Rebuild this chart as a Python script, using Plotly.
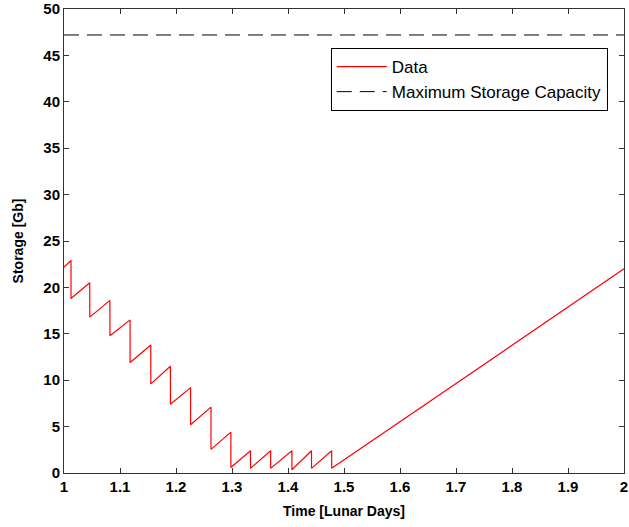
import plotly.graph_objects as go

# Data
time = [1.0, 1.0125, 1.0125, 1.046, 1.046, 1.082, 1.082, 1.118, 1.118, 1.155, 1.155,
        1.19, 1.19, 1.226, 1.226, 1.2625, 1.2625, 1.298, 1.298, 1.333, 1.333,
        1.369, 1.369, 1.407, 1.407, 1.442, 1.442, 1.478, 1.478, 2.0]
storage = [22.2, 22.9, 18.8, 20.5, 16.8, 18.6, 14.8, 16.5, 11.9, 13.8, 9.6,
           11.5, 7.4, 9.2, 5.2, 7.1, 2.55, 4.4, 0.6, 2.4, 0.5,
           2.4, 0.5, 2.4, 0.35, 2.4, 0.5, 2.4, 0.5, 22.0]
max_capacity = 47.2
cap_x = [1.0, 2.0]

x_ticks = [1.0, 1.1, 1.2, 1.3, 1.4, 1.5, 1.6, 1.7, 1.8, 1.9, 2.0]
x_labels = ["1", "1.1", "1.2", "1.3", "1.4", "1.5", "1.6", "1.7", "1.8", "1.9", "2"]
y_ticks = [0, 5, 10, 15, 20, 25, 30, 35, 40, 45, 50]
y_labels = ["0", "5", "10", "15", "20", "25", "30", "35", "40", "45", "50"]

fig = go.Figure()
fig.add_trace(go.Scatter(x=time, y=storage, mode="lines", name="Data",
                         line=dict(color="#ff0000", width=1.2)))
fig.add_trace(go.Scatter(x=cap_x, y=[max_capacity, max_capacity], mode="lines",
                         name="Maximum Storage Capacity",
                         line=dict(color="black", width=1, dash="15px,8px")))

axis_common = dict(showgrid=False, zeroline=False, showline=True, linecolor="#333333",
                   linewidth=1, mirror="ticks", ticks="inside", ticklen=5,
                   tickcolor="#333333", automargin=False,
                   tickfont=dict(family="Liberation Sans, Arial", size=15, color="black"))

fig.update_xaxes(range=[1, 2], tickvals=x_ticks,
                 ticktext=["<b>%s</b>" % t for t in x_labels],
                 title=dict(text="<b>Time [Lunar Days]</b>", standoff=12,
                            font=dict(family="Liberation Sans, Arial", size=14, color="black")),
                 **axis_common)
fig.update_yaxes(range=[0, 50], tickvals=y_ticks,
                 ticktext=["<b>%s</b>" % t for t in y_labels],
                 title=dict(text="<b>Storage [Gb]</b>", standoff=16,
                            font=dict(family="Liberation Sans, Arial", size=14, color="black")),
                 **axis_common)

fig.update_layout(
    width=629, height=527,
    margin=dict(l=64, r=5, t=9, b=54),
    plot_bgcolor="white", paper_bgcolor="white",
    showlegend=True,
    legend=dict(x=0.971, y=0.916, xanchor="right", yanchor="top",
                bgcolor="white", bordercolor="black", borderwidth=1,
                font=dict(family="Liberation Sans, Arial", size=17, color="black"),
                tracegroupgap=0, itemwidth=50),
)

fig.write_html("out.html")
